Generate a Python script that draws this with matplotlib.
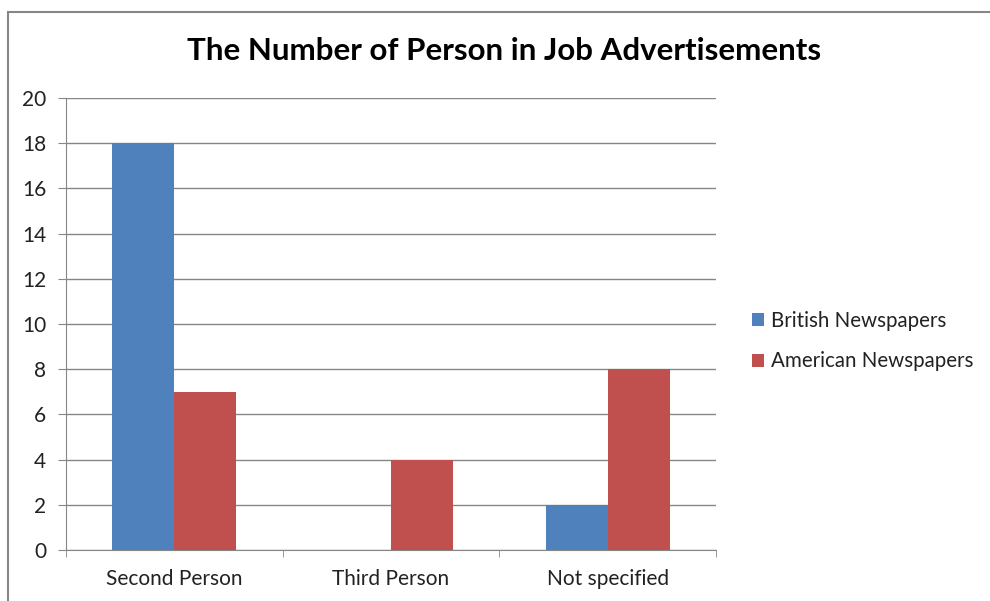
import matplotlib
matplotlib.use("Agg")
import matplotlib.pyplot as plt
import numpy as np
from matplotlib.patches import Rectangle

categories = ["Second Person", "Third Person", "Not specified"]
british = [18, 0, 2]
american = [7, 4, 8]
series_names = ["British Newspapers", "American Newspapers"]
y_ticks = [0, 2, 4, 6, 8, 10, 12, 14, 16, 18, 20]

BLUE = "#4F81BD"
RED = "#C0504D"
GRID = "#868686"
FONT = "Lato"

plt.rcParams["font.family"] = [FONT, "DejaVu Sans"]

fig = plt.figure(figsize=(9.9, 6.01), dpi=100)
W, H = 990, 601

# chart frame (partly clipped at right/bottom)
fig.add_artist(Rectangle((8 / W, -0.05), 1.2, 1 - 12 / H + 0.05,
                         transform=fig.transFigure, fill=False,
                         edgecolor="#868686", linewidth=1.5))

ax = fig.add_axes([66 / W, 1 - 550 / H, 650 / W, 452 / H])

x = np.arange(len(categories))
w = 1 / 3.5
ax.bar(x - w / 2, british, width=w, color=BLUE, label=series_names[0], zorder=3)
ax.bar(x + w / 2, american, width=w, color=RED, label=series_names[1], zorder=3)

ax.set_xlim(-0.5, len(categories) - 0.5)
ax.set_ylim(0, 20)
ax.set_yticks(y_ticks)
ax.yaxis.grid(True, color=GRID, linewidth=1, zorder=0)
ax.set_axisbelow(True)

for s in ["top", "right"]:
    ax.spines[s].set_visible(False)
ax.spines["left"].set_color(GRID)
ax.spines["bottom"].set_color(GRID)

ax.tick_params(axis="y", length=5.8, color=GRID, labelsize=15, pad=8.5,
               labelcolor="#222222")
ax.set_xticks(x)
ax.set_xticklabels(categories)
ax.tick_params(axis="x", length=0, labelsize=15, pad=14, labelcolor="#222222")
# category boundary ticks
ax.set_xticks(np.arange(-0.5, len(categories), 1), minor=True)
ax.tick_params(axis="x", which="minor", length=5, color=GRID, direction="out")

fig.text(504 / W, 1 - 51 / H, "The Number of Person in Job Advertisements",
         ha="center", va="center", fontsize=22.5, fontweight="bold", color="black")

leg = fig.legend(loc="center left", bbox_to_anchor=(733 / W, 1 - 341 / H),
                 frameon=False, fontsize=14.8, handlelength=0.6, handleheight=0.6,
                 handletextpad=0.35, labelspacing=1.0, labelcolor="#222222")

fig.savefig("out.png", dpi=100, facecolor="white")
